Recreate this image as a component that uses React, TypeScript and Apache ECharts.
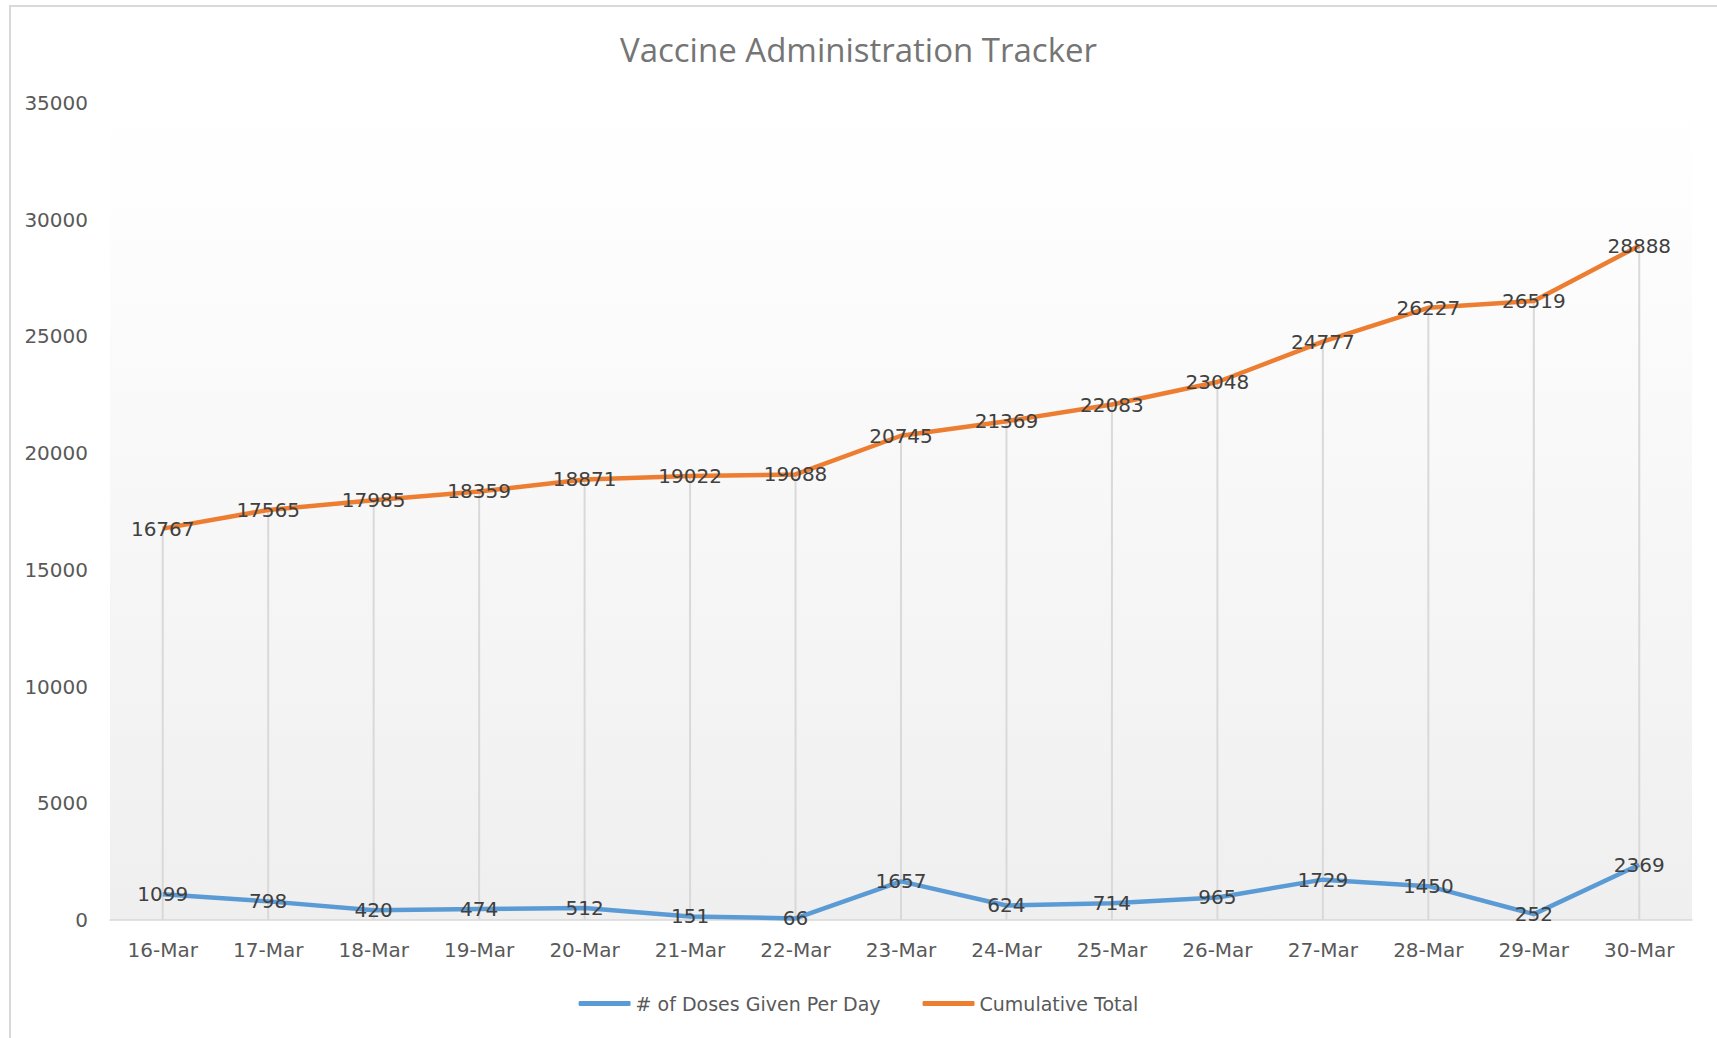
import React, { useEffect, useRef } from "react";
import * as echarts from "echarts";

const categories = ["16-Mar", "17-Mar", "18-Mar", "19-Mar", "20-Mar", "21-Mar", "22-Mar", "23-Mar", "24-Mar", "25-Mar", "26-Mar", "27-Mar", "28-Mar", "29-Mar", "30-Mar"];
const dosesPerDay = [1099, 798, 420, 474, 512, 151, 66, 1657, 624, 714, 965, 1729, 1450, 252, 2369];
const cumulativeTotal = [16767, 17565, 17985, 18359, 18871, 19022, 19088, 20745, 21369, 22083, 23048, 24777, 26227, 26519, 28888];
const yMin = 0;
const yMax = 35000;
const yInterval = 5000;

const FONT = "DejaVu Sans";

export default function App() {
  const ref = useRef<HTMLDivElement>(null);
  useEffect(() => {
    document.body.style.margin = "0";
    const chart = echarts.init(ref.current!, null, { renderer: "svg" });
    const labelStyle = {
      show: true,
      position: "inside" as const,
      color: "#404040",
      fontFamily: FONT,
      fontSize: 20,
    };
    chart.setOption({
      animation: false,
      backgroundColor: "transparent",
      title: {
        text: "Vaccine Administration Tracker",
        left: "center",
        top: 28,
        textStyle: { fontFamily: "Open Sans", fontWeight: "normal", fontSize: 33, color: "#757575" },
      },
      legend: {
        bottom: 20,
        left: "center",
        itemWidth: 52,
        itemHeight: 5,
        itemGap: 42,
        icon: "roundRect",
        data: ["# of Doses Given Per Day", "Cumulative Total"],
        textStyle: { fontFamily: FONT, fontSize: 19, color: "#595959" },
      },
      grid: {
        left: 110,
        right: 25,
        top: 103,
        bottom: 118,
        show: true,
        borderWidth: 0,
        backgroundColor: new echarts.graphic.LinearGradient(0, 0, 0, 1, [
          { offset: 0, color: "#ffffff" },
          { offset: 0.15, color: "#fdfdfd" },
          { offset: 1, color: "#efefef" },
        ]),
      },
      xAxis: {
        type: "category",
        data: categories,
        boundaryGap: true,
        axisLine: { show: true, lineStyle: { color: "#d9d9d9", width: 1.5 } },
        axisTick: { show: false },
        axisLabel: { color: "#595959", fontFamily: FONT, fontSize: 20, margin: 20 },
        splitLine: { show: false },
      },
      yAxis: {
        type: "value",
        min: yMin,
        max: yMax,
        interval: yInterval,
        axisLine: { show: false },
        axisTick: { show: false },
        splitLine: { show: false },
        axisLabel: {
          color: "#595959",
          fontFamily: FONT,
          fontSize: 20,
          margin: 22,
          formatter: (v: number) => String(v),
        },
      },
      series: [
        {
          name: "dropLines",
          type: "bar",
          data: cumulativeTotal,
          barWidth: 2,
          barGap: "-100%",
          itemStyle: { color: "#d9d9d9" },
          silent: true,
          z: 1,
        },
        {
          name: "# of Doses Given Per Day",
          type: "line",
          data: dosesPerDay,
          symbol: "circle",
          symbolSize: 0,
          showSymbol: true,
          itemStyle: { color: "#5b9bd5" },
          lineStyle: { color: "#5b9bd5", width: 4.5 },
          label: labelStyle,
          z: 3,
        },
        {
          name: "Cumulative Total",
          type: "line",
          data: cumulativeTotal,
          symbol: "circle",
          symbolSize: 0,
          showSymbol: true,
          itemStyle: { color: "#ed7d31" },
          lineStyle: { color: "#ed7d31", width: 4.5 },
          label: labelStyle,
          z: 3,
        },
      ],
    });
    return () => chart.dispose();
  }, []);
  return (
    <div style={{ position: "relative", width: 1717, height: 1038, overflow: "hidden", background: "#fff" }}>
      <div
        style={{
          position: "absolute",
          left: 9,
          top: 5,
          width: 1740,
          height: 1060,
          border: "2px solid #d9d9d9",
          boxSizing: "border-box",
        }}
      />
      <div ref={ref} style={{ position: "absolute", left: 0, top: 0, width: 1717, height: 1038 }} />
    </div>
  );
}
